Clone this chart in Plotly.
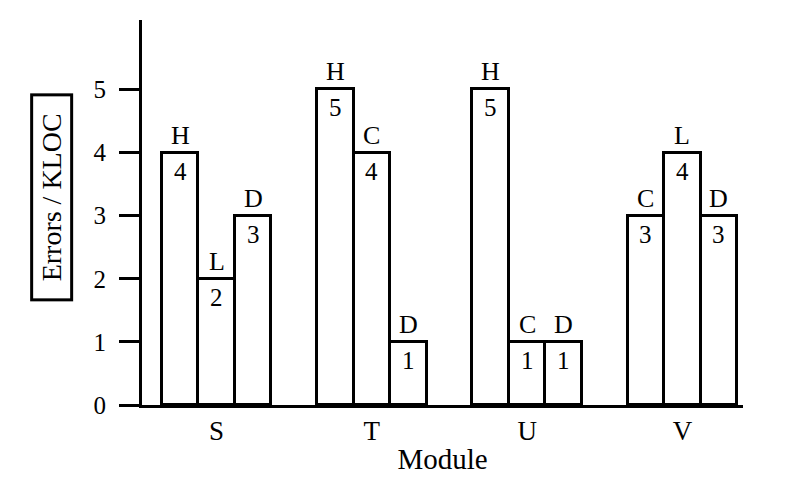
import plotly.graph_objects as go

modules = ["S", "T", "U", "V"]
letters = [["H", "L", "D"], ["H", "C", "D"], ["H", "C", "D"], ["C", "L", "D"]]
values = [[4, 2, 3], [5, 4, 1], [5, 1, 1], [3, 4, 3]]
y_ticks = [0, 1, 2, 3, 4, 5]

FONT = "Liberation Serif"
bar_w = 0.235

# flatten groups into bar positions around each module index
xs, ys, labels = [], [], []
for g, (grp_letters, grp_values) in enumerate(zip(letters, values)):
    for k, (lt, v) in enumerate(zip(grp_letters, grp_values)):
        xs.append(g + (k - 1) * bar_w)
        ys.append(v)
        labels.append(lt)

fig = go.Figure()
fig.add_trace(go.Bar(
    x=xs, y=ys, width=bar_w,
    marker=dict(color="white", line=dict(color="black", width=3)),
    showlegend=False, hoverinfo="skip",
))

# letter above each bar, value just inside its top
for x, y, lt in zip(xs, ys, labels):
    fig.add_annotation(x=x, y=y, text=lt, showarrow=False,
                       yanchor="bottom", yshift=1,
                       font=dict(family=FONT, size=26, color="black"))
    fig.add_annotation(x=x, y=y, text=str(y), showarrow=False,
                       yanchor="top", yshift=-3,
                       font=dict(family=FONT, size=25, color="black"))

fig.add_annotation(
    text="\u00a0\u00a0Errors / KLOC\u00a0\u00a0", textangle=-90,
    xref="paper", yref="paper", x=-0.151, y=0.54,
    xanchor="center", yanchor="middle",
    showarrow=False, font=dict(family=FONT, size=28, color="black"),
    bordercolor="black", borderwidth=3, borderpad=3,
)

fig.update_layout(
    width=782, height=474,
    margin=dict(l=134, r=47, t=12, b=77),
    paper_bgcolor="white", plot_bgcolor="white",
    font=dict(family=FONT, color="black"),
    bargap=0,
)
fig.update_xaxes(
    range=[-0.48, 3.39], tickvals=list(range(len(modules))), ticktext=modules,
    showline=True, linewidth=3, linecolor="black", ticks="",
    showgrid=False, zeroline=False,
    tickfont=dict(family=FONT, size=27),
    title=dict(text="Module", font=dict(family=FONT, size=29), standoff=4),
)
fig.update_yaxes(
    range=[0, 6.1], tickvals=y_ticks,
    showline=True, linewidth=3, linecolor="black",
    ticks="outside", ticklen=20, tickwidth=3, tickcolor="black",
    ticklabelstandoff=8,
    showgrid=False, zeroline=False,
    tickfont=dict(family=FONT, size=25),
)

fig.write_html("out.html")
